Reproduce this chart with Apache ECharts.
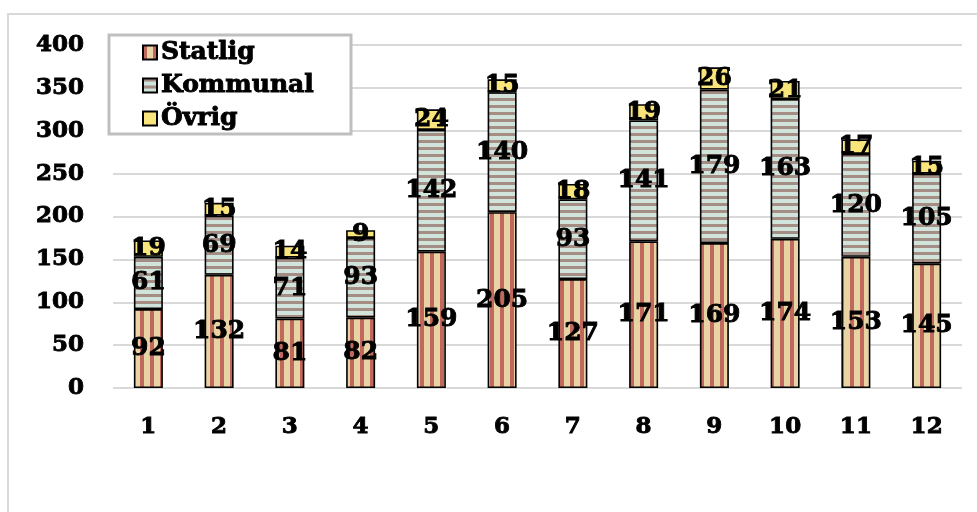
<!DOCTYPE html>
<html>
<head>
<meta charset="utf-8">
<script src="https://cdn.jsdelivr.net/npm/echarts@6/dist/echarts.min.js"></script>
<style>
	html, body { margin: 0; padding: 0; background: #fff; }
	#chart { width: 977px; height: 512px; }
</style>
</head>
<body>
<div id="chart"></div>
<script>
const categories = ['1', '2', '3', '4', '5', '6', '7', '8', '9', '10', '11', '12'];
const statlig = [92, 132, 81, 82, 159, 205, 127, 171, 169, 174, 153, 145];
const kommunal = [61, 69, 71, 93, 142, 140, 93, 141, 179, 163, 120, 105];
const ovrig = [19, 15, 14, 9, 24, 15, 18, 19, 26, 21, 17, 15];

const font = '"DejaVu Serif", "Liberation Serif", serif';

// heavy black serif text like the original
const boldText = {
	color: '#000',
	fontFamily: font,
	fontWeight: 'bold',
	textBorderColor: '#000',
	textBorderWidth: 0.9
};

// stripe fills
function stripes(vertical, c1, c2, w1, w2) {
	let cv = document.createElement('canvas'),
		p = w1 + w2;
	cv.width = p;
	cv.height = p;
	let ctx = cv.getContext('2d');
	ctx.fillStyle = c2;
	ctx.fillRect(0, 0, p, p);
	ctx.fillStyle = c1;
	if (vertical) ctx.fillRect(0, 0, w1, p);
	else ctx.fillRect(0, 0, p, w1);
	return { image: cv, repeat: 'repeat' };
}

const redFill = stripes(true, '#c0675e', '#e8d3a5', 4, 6);
const greenFill = stripes(false, '#a38d84', '#d0e4dc', 3, 4);

function seriesOf(name, data, color) {
	return {
		name,
		type: 'bar',
		stack: 'total',
		data,
		barWidth: 29,
		itemStyle: {
			color,
			borderColor: '#000',
			borderWidth: 1.6
		},
		label: Object.assign({
			show: true,
			position: 'inside',
			fontSize: 25
		}, boldText)
	};
}

let chart = echarts.init(document.getElementById('chart'));

chart.setOption({
	animation: false,
	textStyle: { fontFamily: font },
	grid: {
		left: 113,
		right: 15,
		top: 45,
		bottom: 124
	},
	graphic: [
		{
			type: 'rect',
			z: 0,
			shape: { x: 8, y: 14, width: 1100, height: 600 },
			style: { fill: null, stroke: '#d9d9d9', lineWidth: 2 }
		},
		{
			type: 'rect',
			z: 50,
			shape: { x: 109, y: 35, width: 242, height: 99 },
			style: { fill: '#fff', stroke: '#bfbfbf', lineWidth: 3 }
		}
	],
	legend: {
		orient: 'vertical',
		left: 142,
		top: 39,
		padding: 0,
		z: 60,
		itemWidth: 14,
		itemHeight: 14,
		itemGap: 6,
		icon: 'rect',
		data: ['Statlig', 'Kommunal', 'Övrig'],
		textStyle: Object.assign({
			fontSize: 25,
			lineHeight: 27,
			padding: [0, 0, 0, -1]
		}, boldText)
	},
	xAxis: {
		type: 'category',
		data: categories,
		axisLine: { show: false },
		axisTick: { show: false },
		axisLabel: Object.assign({
			margin: 28,
			fontSize: 23
		}, boldText)
	},
	yAxis: {
		type: 'value',
		min: 0,
		max: 400,
		interval: 50,
		axisLine: { show: false },
		axisTick: { show: false },
		splitLine: { lineStyle: { color: '#d9d9d9', width: 2 } },
		axisLabel: Object.assign({
			margin: 29,
			fontSize: 23
		}, boldText)
	},
	series: [
		seriesOf('Statlig', statlig, redFill),
		seriesOf('Kommunal', kommunal, greenFill),
		seriesOf('Övrig', ovrig, '#f9e57c')
	]
});
</script>
</body>
</html>
